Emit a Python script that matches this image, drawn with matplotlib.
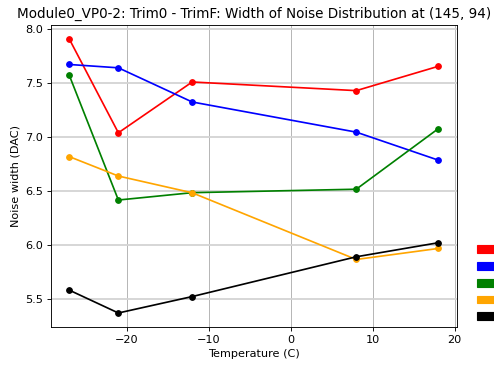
import matplotlib
matplotlib.use("Agg")
import matplotlib.pyplot as plt
from matplotlib.patches import Patch

# Temperatures (C) and noise width per trim setting
temperature = [-27, -21, -12, 8, 18]
width_red = [7.91, 7.04, 7.51, 7.43, 7.655]
width_blue = [7.672, 7.641, 7.325, 7.046, 6.787]
width_green = [7.575, 6.418, 6.486, 6.518, 7.078]
width_orange = [6.82, 6.64, 6.485, 5.868, 5.97]
width_black = [5.585, 5.373, 5.525, 5.893, 6.023]

series = [width_red, width_blue, width_green, width_orange, width_black]
colors = ["red", "blue", "green", "orange", "black"]

dpi = 81
fig = plt.figure(figsize=(494 / dpi, 367 / dpi), dpi=dpi)
ax = fig.add_axes([0.1026, 0.1098, 0.822, 0.822])

for values, color in zip(series, colors):
    ax.plot(temperature, values, color=color, marker="o", markersize=5, linewidth=1.5)

ax.grid(axis="x", color="#b0b0b0", linewidth=0.8)
ax.grid(axis="y", color="lightgray", linewidth=1.6)
ax.set_axisbelow(True)

ax.set_xlabel("Temperature (C)")
ax.set_ylabel("Noise width (DAC)")
ax.set_title("Module0_VP0-2: Trim0 - TrimF: Width of Noise Distribution at (145, 94)",
             fontsize=12)

handles = [Patch(facecolor=c, edgecolor=c) for c in colors]
ax.legend(handles, [" "] * len(handles), loc="lower left", bbox_to_anchor=(1.04, 0.0),
          borderaxespad=0, frameon=False, labelspacing=0.6)

fig.savefig("out.png", dpi=dpi)
